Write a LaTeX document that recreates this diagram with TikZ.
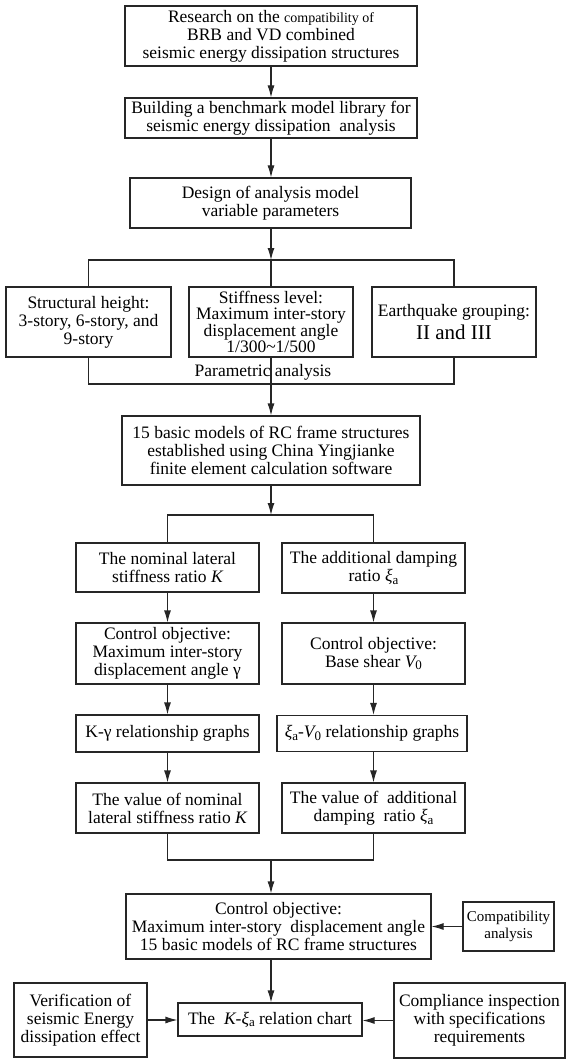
\documentclass[tikz,border=0pt]{standalone}
\usepackage{fontspec}
\setmainfont{Liberation Serif}
\usetikzlibrary{arrows.meta}
\newcommand\subsc[1]{\raisebox{-0.35ex}{\fontsize{13}{13}\selectfont #1}}
\newcommand\xia{{\itshape ξ}\subsc{a}}
\newcommand\Vzero{{\itshape V}\subsc{0}}
\begin{document}
\begin{tikzpicture}[x=1pt,y=1pt,
  box/.style={draw=black!85, line width=1.1pt, align=center, inner sep=0pt,
    font=\fontsize{17.5}{18}\selectfont},
  arr/.style={draw=black!85, -{Latex[length=12pt,width=7pt]}, line width=1.1pt},
  ln/.style={draw=black!85, line width=1.1pt}]
\useasboundingbox (0,0) rectangle (566,-1059);

\node[box, minimum width=292, minimum height=60] (n1) at (271,-36)
  {Research on the {\fontsize{14}{18}\selectfont compatibility of}\\BRB and VD combined\\seismic energy dissipation structures};
\node[box, minimum width=292, minimum height=40] (n2) at (271,-118)
  {Building a benchmark model library for\\seismic energy dissipation\ \ analysis};
\node[box, minimum width=281, minimum height=50] (n3) at (270.5,-203)
  {Design of analysis model\\variable parameters};

\node[box, minimum width=165, minimum height=70] (n4) at (88.5,-322)
  {Structural height:\\3-story, 6-story, and\\9-story};
\node[box, minimum width=164, minimum height=70, font=\fontsize{17.5}{16.5}\selectfont] (n5) at (271,-322)
  {Stiffness level:\\Maximum inter-story\\displacement angle\\1/300\textasciitilde 1/500};
\node[box, minimum width=164, minimum height=70] (n6) at (454,-322)
  {Earthquake grouping:\\[3pt]{\fontsize{21}{22}\selectfont II and III}};
\node[font=\fontsize{17.5}{18}\selectfont, inner sep=0pt] (pa) at (263,-372) {Parametric analysis};

\node[box, minimum width=298, minimum height=69] (n7) at (271,-450.5)
  {15 basic models of RC frame structures\\established using China Yingjianke\\finite element calculation software};

\node[box, minimum width=183, minimum height=49] (n8) at (167.5,-567.5)
  {The nominal lateral\\stiffness ratio {\itshape K}};
\node[box, minimum width=183, minimum height=50] (n9) at (373.5,-568)
  {The additional damping\\ratio \xia};
\node[box, minimum width=183, minimum height=61] (n10) at (167.5,-653.5)
  {Control objective:\\Maximum inter-story\\displacement angle γ};
\node[box, minimum width=183, minimum height=61] (n11) at (373.5,-653.5)
  {Control objective:\\Base shear \Vzero};
\node[box, minimum width=183, minimum height=37] (n12) at (167.5,-733.5)
  {K-γ relationship graphs};
\node[box, minimum width=190, minimum height=36] (n13) at (372,-733.5)
  {\xia-\Vzero{} relationship graphs};
\node[box, minimum width=183, minimum height=50] (n14) at (167.5,-808)
  {The value of nominal\\lateral stiffness ratio {\itshape K}};
\node[box, minimum width=183, minimum height=50] (n15) at (373.5,-808)
  {The value of\ \ additional\\damping\ \ ratio \xia};

\node[box, minimum width=305, minimum height=65] (n16) at (278.5,-926.5)
  {Control objective:\\Maximum inter-story\ \ displacement angle\\15 basic models of RC frame structures};
\node[box, minimum width=91, minimum height=49, font=\fontsize{15}{17}\selectfont] (n17) at (508.5,-926.5)
  {Compatibility\\analysis};
\node[box, minimum width=184, minimum height=33] (n18) at (270,-1019.5)
  {The\ \ {\itshape K}-\xia{} relation chart};
\node[box, minimum width=133, minimum height=74] (n19) at (80.5,-1020)
  {Verification of\\seismic Energy\\dissipation effect};
\node[box, minimum width=171, minimum height=75] (n20) at (479.5,-1020.5)
  {Compliance inspection\\with specifications\\requirements};

\coordinate (j1) at (271,-260);
\coordinate (j2) at (271,-384);
\coordinate (j3) at (271,-515);
\coordinate (j4) at (271,-860);

\draw[arr] (n1.south) -- (n2.north);
\draw[arr] (n2.south) -- (n2.south |- n3.north);
\draw[arr] (n3.south -| j1) -- (j1);
\draw[ln] (n4.north) |- (n6.north |- j1) -- (n6.north);
\draw[ln] (j1) -- (n5.north);
\draw[ln] (n4.south) |- (n6.south |- j2) -- (n6.south);
\draw[ln] (n5.south) -- (j2);
\draw[arr] (j2) -- (j2 |- n7.north);

\draw[arr] (n7.south -| j3) -- (j3);
\draw[ln] (n8.north) |- (n9.north |- j3) -- (n9.north);
\draw[arr] (n8.south) -- (n10.north);
\draw[arr] (n10.south) -- (n12.north);
\draw[arr] (n12.south) -- (n14.north);
\draw[arr] (n9.south) -- (n9.south |- n11.north);
\draw[arr] (n11.south) -- (n11.south |- n13.north);
\draw[arr] (n13.south -| n15.north) -- (n15.north);
\draw[ln] (n14.south) |- (n15.south |- j4) -- (n15.south);
\draw[arr] (j4) -- (j4 |- n16.north);

\draw[arr] (n17.west) -- (n17.west -| n16.east);
\draw[arr] (j4 |- n16.south) -- (j4 |- n18.north);
\draw[arr] (n19.east) -- (n19.east -| n18.west);
\draw[arr] (n20.west) -- (n20.west -| n18.east);
\end{tikzpicture}
\end{document}
